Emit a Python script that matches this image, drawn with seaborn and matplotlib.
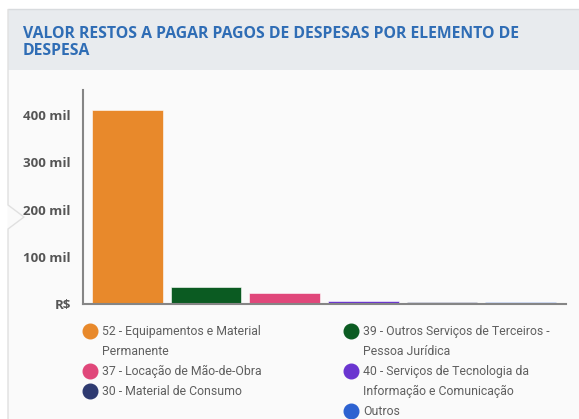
import numpy as np
import pandas as pd
import matplotlib.pyplot as plt
import seaborn as sns
from matplotlib.patches import Rectangle, Polygon
from matplotlib.lines import Line2D

# Data
categorias = ['52 - Equipamentos e Material\nPermanente',
              '39 - Outros Serviços de Terceiros -\nPessoa Jurídica',
              '37 - Locação de Mão-de-Obra',
              '40 - Serviços de Tecnologia da\nInformação e Comunicação',
              '30 - Material de Consumo',
              'Outros']
valores = [410600, 36600, 22600, 5500, 3500, 3500]
cores = ['#E8892B', '#0B5B22', '#E0477A', '#6A35D0', '#2E3A70', '#2D62D1']
ticks_y = [0, 100000, 200000, 300000, 400000]
ticks_y_labels = ['R$', '100 mil', '200 mil', '300 mil', '400 mil']

df = pd.DataFrame({'cat': categorias, 'valor': valores})

sns.set_style('white')
plt.rcParams['font.family'] = ['Open Sans', 'DejaVu Sans']

W, H = 579, 419
fig = plt.figure(figsize=(W / 100, H / 100), dpi=100)
fig.patch.set_facecolor('white')

def fx(x):
    return x / W

def fy(y):
    return 1 - y / H

# panel background, header and borders
fig.patches.append(Rectangle((fx(8), 0), 1, fy(70), transform=fig.transFigure,
                             facecolor='#fafafa', edgecolor='none', zorder=-3))
fig.patches.append(Rectangle((fx(8), fy(70)), 1, (70 - 10) / H, transform=fig.transFigure,
                             facecolor='#e8ebee', edgecolor='none', zorder=-2))
fig.lines.append(Line2D([fx(8), 1], [fy(9.5), fy(9.5)], transform=fig.transFigure,
                        color='#d8dbde', lw=1))
fig.lines.append(Line2D([fx(8), fx(8), fx(24), fx(8), fx(8)],
                        [fy(9.5), fy(205), fy(217), fy(229), 0], transform=fig.transFigure,
                        color='#e0e0e0', lw=1))
fig.patches.append(Polygon([[fx(7.5), fy(205)], [fx(24), fy(217)], [fx(7.5), fy(229)]],
                           closed=True, transform=fig.transFigure,
                           facecolor='#fafafa', edgecolor='none', zorder=-1))

fig.text(fx(23), fy(26), 'VALOR RESTOS A PAGAR PAGOS DE DESPESAS POR ELEMENTO DE\nDESPESA',
         fontsize=11.3, fontweight='bold', color='#2F6DB5', va='top',
         linespacing=1.12)

ax = fig.add_axes([fx(82.5), fy(304), fx(565.7) - fx(82.5), fy(90) - fy(304)])
ax.set_facecolor('none')

sns.barplot(data=df, x='cat', y='valor', hue='cat', palette=cores, legend=False,
            width=0.9, edgecolor='white', linewidth=0.4, saturation=1, ax=ax)

ax.set_xlim(-0.573, 5.575)
ax.set_ylim(0, 453000)
ax.set_xlabel('')
ax.set_ylabel('')

for s in ['top', 'right']:
    ax.spines[s].set_visible(False)
for s in ['left', 'bottom']:
    ax.spines[s].set_color('#858585')
    ax.spines[s].set_linewidth(1.5)

ax.set_yticks(ticks_y + [453000])
ax.set_yticklabels(ticks_y_labels + [''])
ax.set_xticks([-0.573, 5.575])
ax.set_xticklabels(['', ''])
ax.tick_params(axis='y', length=5, width=1.5, color='#858585', direction='out',
               labelsize=9.5, labelcolor='#555555', pad=3.5)
ax.tick_params(axis='x', length=7, width=1.5, color='#858585', direction='out')
for t in ax.get_yticklabels():
    t.set_fontweight('bold')

# legend, two columns; wrapped labels continue on rows without a marker
col_esq = [(0, '52 - Equipamentos e Material'), (None, 'Permanente'),
           (2, '37 - Locação de Mão-de-Obra'), (4, '30 - Material de Consumo')]
col_dir = [(1, '39 - Outros Serviços de Terceiros -'), (None, 'Pessoa Jurídica'),
           (3, '40 - Serviços de Tecnologia da'), (None, 'Informação e Comunicação'),
           (5, 'Outros')]

def make_legend(entries, x):
    handles, labels = [], []
    for i, lab in entries:
        if i is None:
            handles.append(Line2D([], [], linestyle='none', marker=None))
        else:
            handles.append(Line2D([], [], marker='o', linestyle='none', markersize=10.5,
                                  markerfacecolor=cores[i], markeredgecolor=cores[i]))
        labels.append(lab)
    leg = fig.legend(handles, labels, loc='upper left', bbox_to_anchor=(fx(x), fy(325)),
                     frameon=False, handletextpad=0.35, labelspacing=0.57,
                     prop={'family': 'Roboto', 'size': 8.8},
                     labelcolor='#5f5f5f', borderaxespad=0, borderpad=0,
                     handlelength=1.4)
    return leg

make_legend(col_esq, 81)
make_legend(col_dir, 342)

fig.savefig('out.png', dpi=100, facecolor=fig.get_facecolor())
